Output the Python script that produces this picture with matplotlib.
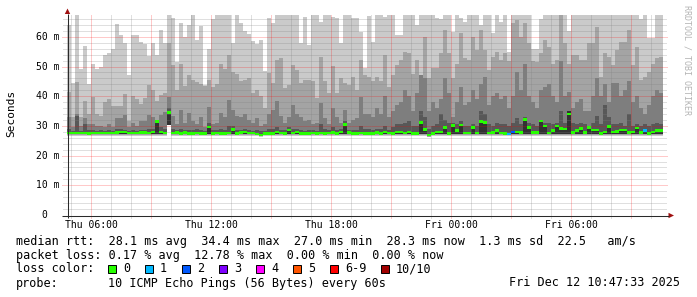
import numpy as np
import matplotlib
matplotlib.use("Agg")
import matplotlib.pyplot as plt
import matplotlib.transforms as mtransforms
from matplotlib.patches import Polygon, Rectangle

plt.rcParams['font.family'] = ['DejaVu Sans Mono', 'DejaVu Sans']

# ---------------- data ----------------
bar_start_hour = 4.8      # Thu 04:48 (hours since Thu 00:00)
bar_hours = 0.2           # 12-minute consolidated steps

ping10 = [64.0, 44.5, 67.4, 49.0, 57.0, 44.0, 51.0, 49.0, 50.0, 54.0,
          54.7, 55.8, 64.3, 60.5, 58.0, 47.0, 60.6, 60.6, 58.2, 57.5,
          53.5, 58.0, 54.0, 62.4, 58.0, 67.4, 66.2, 51.4, 64.5, 60.0,
          64.0, 67.4, 59.0, 63.5, 43.8, 55.8, 65.9, 67.4, 67.4, 67.4,
          67.4, 57.8, 67.4, 64.5, 62.0, 61.0, 58.5, 57.7, 59.0, 48.5,
          66.2, 64.8, 67.4, 67.4, 67.4, 67.4, 67.4, 67.4, 57.8, 66.5,
          57.2, 67.4, 67.4, 65.0, 67.4, 67.4, 66.8, 66.2, 57.8, 67.4,
          67.4, 66.2, 66.2, 61.7, 49.4, 67.0, 58.4, 67.4, 67.4, 66.8,
          67.4, 67.4, 60.6, 60.6, 67.4, 67.4, 67.4, 64.0, 67.4, 67.4,
          67.4, 67.4, 66.2, 66.0, 67.4, 67.4, 61.5, 67.4, 66.2, 65.0,
          67.4, 67.4, 67.4, 64.0, 67.4, 67.4, 61.2, 67.4, 65.0, 67.4,
          55.0, 67.4, 67.4, 67.4, 67.4, 67.4, 56.0, 56.0, 66.0, 67.4,
          67.4, 67.4, 67.4, 67.4, 67.4, 62.0, 67.4, 67.4, 67.4, 67.4,
          67.4, 67.4, 67.4, 67.4, 67.4, 67.4, 67.4, 67.4, 67.4, 67.4,
          67.4, 67.4, 67.4, 66.0, 67.4, 59.5, 59.5, 67.4, 67.4]

ping9 = [41.5, 33.0, 44.9, 33.0, 38.5, 34.0, 39.7, 34.0, 33.5, 38.0,
         39.0, 36.8, 36.8, 36.8, 40.8, 31.5, 40.0, 39.0, 37.5, 39.5,
         43.7, 42.0, 38.5, 40.4, 41.0, 57.8, 50.5, 42.0, 51.0, 43.3,
         47.0, 45.5, 44.8, 44.0, 43.5, 45.5, 43.0, 44.0, 51.0, 49.0,
         54.0, 48.0, 47.5, 45.0, 45.5, 46.0, 41.0, 42.0, 40.0, 36.0,
         47.7, 44.3, 52.2, 52.7, 42.6, 43.8, 50.5, 48.8, 44.3, 45.5,
         45.5, 45.0, 39.5, 53.3, 45.0, 41.0, 50.2, 41.0, 46.0, 44.5,
         43.8, 46.6, 42.0, 52.2, 47.0, 46.6, 45.0, 46.6, 45.0, 53.9,
         43.2, 47.0, 50.5, 52.2, 55.0, 54.4, 47.5, 52.2, 47.0, 60.0,
         46.0, 49.4, 49.4, 54.4, 62.3, 54.4, 46.0, 51.0, 61.2, 52.7,
         52.2, 60.0, 55.5, 62.3, 55.5, 48.8, 53.3, 55.0, 52.2, 54.4,
         52.0, 64.5, 65.6, 60.0, 64.5, 57.8, 52.0, 51.6, 54.4, 58.9,
         56.7, 51.0, 52.2, 67.4, 57.8, 51.0, 53.9, 53.9, 52.2, 52.2,
         57.8, 57.8, 63.4, 46.5, 54.4, 53.3, 50.5, 55.5, 58.1, 58.1,
         62.3, 50.5, 56.7, 45.5, 46.6, 48.3, 51.0, 52.7, 53.3]

ping8 = [33.0, 29.5, 34.0, 30.0, 32.6, 30.5, 30.5, 30.0, 29.8, 29.6,
         30.5, 29.6, 32.6, 32.6, 33.8, 29.5, 31.0, 30.0, 31.5, 31.5,
         33.7, 33.0, 32.0, 33.7, 34.8, 39.7, 33.5, 30.5, 35.5, 31.0,
         34.5, 31.5, 30.5, 33.0, 29.5, 36.5, 30.5, 31.0, 34.5, 33.0,
         38.7, 35.3, 33.5, 33.0, 34.0, 32.0, 31.0, 32.5, 30.0, 30.5,
         34.0, 35.5, 38.5, 33.5, 31.0, 33.0, 37.0, 34.0, 33.0, 31.5,
         32.0, 30.5, 31.0, 37.6, 32.5, 30.5, 36.0, 33.0, 31.0, 35.5,
         31.0, 32.0, 32.5, 39.8, 34.0, 34.0, 33.0, 36.0, 34.0, 40.0,
         33.0, 35.0, 37.0, 38.0, 42.0, 40.0, 35.0, 41.0, 47.0, 46.0,
         35.0, 38.0, 36.0, 39.0, 46.0, 41.0, 33.0, 38.0, 43.2, 37.0,
         38.0, 42.0, 39.0, 44.0, 46.6, 37.0, 40.0, 41.0, 39.0, 40.0,
         36.0, 40.0, 48.0, 42.0, 51.0, 40.0, 38.0, 36.0, 42.0, 43.0,
         44.0, 40.0, 38.0, 52.0, 40.0, 41.5, 36.0, 38.0, 39.0, 35.0,
         35.0, 40.0, 46.0, 40.0, 44.0, 38.0, 44.3, 44.3, 40.0, 42.0,
         45.0, 38.0, 40.0, 36.0, 34.0, 37.0, 40.0, 42.0, 41.0]

ping7 = [29.0, 28.3, 33.5, 28.3, 30.8, 28.5, 28.5, 28.3, 28.5, 28.3,
         28.5, 28.3, 28.8, 29.0, 28.6, 28.3, 28.5, 28.4, 28.6, 28.5,
         28.8, 29.0, 32.0, 29.5, 29.0, 36.0, 29.0, 28.5, 28.8, 28.5,
         28.5, 28.5, 28.8, 28.5, 28.3, 31.0, 28.5, 28.5, 28.8, 28.5,
         30.0, 30.0, 28.5, 28.5, 29.0, 28.5, 28.3, 28.5, 28.3, 28.3,
         29.0, 29.0, 29.5, 28.5, 28.5, 29.5, 29.0, 29.0, 28.5, 28.3,
         28.5, 28.5, 28.3, 30.5, 28.8, 28.5, 29.5, 28.5, 29.0, 31.5,
         28.5, 28.5, 28.5, 30.0, 29.0, 28.8, 28.5, 29.0, 28.8, 30.0,
         28.5, 29.5, 30.5, 30.5, 31.0, 31.5, 30.0, 30.0, 35.0, 33.0,
         29.0, 30.0, 30.5, 34.0, 32.0, 31.0, 31.0, 30.5, 31.5, 30.0,
         30.0, 30.5, 30.0, 35.0, 34.0, 30.5, 30.0, 31.0, 30.5, 30.5,
         30.0, 31.0, 32.5, 30.5, 33.0, 31.0, 30.5, 30.0, 32.0, 31.0,
         31.0, 30.5, 31.0, 35.0, 31.0, 35.0, 31.0, 30.5, 31.0, 30.5,
         30.0, 31.0, 33.5, 30.5, 37.0, 33.0, 30.5, 30.5, 31.0, 30.0,
         34.0, 30.0, 30.5, 30.0, 30.5, 30.0, 30.5, 31.0, 30.5]

ping6 = [27.9, 27.9, 27.9, 27.9, 27.9, 27.9, 27.9, 27.9, 27.9, 27.9,
         27.9, 27.9, 27.9, 28.1, 28.1, 27.9, 27.9, 27.9, 27.9, 27.9,
         27.9, 28.1, 31.8, 28.2, 27.9, 34.8, 27.9, 27.9, 27.9, 27.9,
         27.9, 27.9, 27.9, 27.9, 27.9, 30.0, 27.9, 27.9, 27.9, 27.9,
         27.9, 29.3, 27.9, 28.0, 28.2, 27.9, 27.9, 27.7, 27.3, 27.9,
         27.9, 27.9, 28.1, 27.9, 27.9, 29.0, 27.9, 28.1, 27.9, 27.9,
         27.9, 27.9, 27.9, 27.9, 27.9, 27.9, 28.0, 27.9, 28.1, 30.9,
         27.9, 27.9, 27.9, 27.9, 27.9, 27.9, 27.9, 27.9, 27.9, 28.1,
         27.9, 27.9, 28.1, 28.1, 27.9, 28.1, 27.9, 27.9, 31.6, 29.1,
         27.3, 27.9, 28.1, 28.1, 29.9, 27.9, 30.6, 28.8, 30.7, 27.9,
         27.9, 29.9, 27.9, 31.9, 31.5, 27.9, 28.0, 28.8, 27.9, 27.9,
         27.7, 28.2, 28.1, 27.9, 32.6, 29.9, 27.9, 27.9, 32.1, 30.4,
         27.9, 28.8, 30.4, 29.5, 29.4, 35.0, 27.9, 28.8, 29.5, 27.9,
         29.9, 29.0, 29.0, 27.9, 28.1, 30.2, 28.1, 28.6, 29.0, 29.0,
         27.9, 28.1, 29.7, 27.9, 28.8, 27.9, 28.1, 28.8, 28.8]

ping5 = [27.3, 27.3, 27.3, 27.3, 27.3, 27.3, 27.3, 27.3, 27.3, 27.3,
         27.3, 27.3, 27.3, 27.3, 27.3, 27.3, 27.3, 27.3, 27.3, 27.3,
         27.3, 27.3, 27.3, 27.3, 27.3, 30.3, 27.3, 27.3, 27.3, 27.3,
         27.3, 27.3, 27.3, 27.3, 27.3, 27.3, 27.3, 27.3, 27.3, 27.3,
         27.3, 27.3, 27.3, 27.3, 27.3, 27.3, 27.3, 27.1, 26.8, 27.3,
         27.3, 27.3, 27.3, 27.3, 27.3, 27.3, 27.3, 27.3, 27.3, 27.3,
         27.3, 27.3, 27.3, 27.3, 27.3, 27.3, 27.3, 27.3, 27.3, 27.3,
         27.3, 27.3, 27.3, 27.3, 27.3, 27.3, 27.3, 27.3, 27.3, 27.3,
         27.3, 27.3, 27.3, 27.3, 27.3, 27.3, 27.3, 27.3, 27.3, 27.3,
         26.8, 27.3, 27.3, 27.3, 27.3, 27.3, 27.3, 27.3, 27.3, 27.3,
         27.3, 27.3, 27.3, 27.3, 27.3, 27.3, 27.3, 27.3, 27.3, 27.3,
         27.3, 27.3, 27.3, 27.3, 27.3, 27.3, 27.3, 27.3, 27.3, 27.3,
         27.3, 27.3, 27.3, 27.3, 27.3, 27.3, 27.3, 27.3, 27.3, 27.3,
         27.3, 27.3, 27.3, 27.3, 27.3, 27.3, 27.3, 27.3, 27.3, 27.3,
         27.3, 27.3, 27.3, 27.3, 27.3, 27.3, 27.3, 27.3, 27.3]

ping2 = [26.9, 26.9, 26.9, 26.9, 26.9, 26.9, 26.9, 26.9, 26.9, 26.9,
         26.9, 26.9, 26.9, 26.9, 26.9, 26.9, 26.9, 26.9, 26.9, 26.9,
         26.9, 26.9, 26.9, 26.9, 26.9, 30.3, 26.9, 26.9, 26.9, 26.9,
         26.9, 26.9, 26.9, 26.9, 26.9, 26.9, 26.9, 26.9, 26.9, 26.9,
         26.9, 26.9, 26.9, 26.9, 26.9, 26.9, 26.9, 26.8, 26.5, 26.9,
         26.9, 26.9, 26.9, 26.9, 26.9, 26.9, 26.9, 26.9, 26.9, 26.9,
         26.9, 26.9, 26.9, 26.9, 26.9, 26.9, 26.9, 26.9, 26.9, 26.9,
         26.9, 26.9, 26.9, 26.9, 26.9, 26.9, 26.9, 26.9, 26.9, 26.9,
         26.9, 26.9, 26.9, 26.9, 26.9, 26.9, 26.9, 26.9, 26.9, 26.9,
         26.4, 26.9, 26.9, 26.9, 26.9, 26.9, 26.9, 26.9, 26.9, 26.9,
         26.9, 26.9, 26.9, 26.9, 26.9, 26.9, 26.9, 26.9, 26.9, 26.9,
         26.9, 26.9, 26.9, 26.9, 26.9, 26.9, 26.9, 26.9, 26.9, 26.9,
         26.9, 26.9, 26.9, 26.9, 26.9, 26.9, 26.9, 26.9, 26.9, 26.9,
         26.9, 26.9, 26.9, 26.9, 26.9, 26.9, 26.9, 26.9, 26.9, 26.9,
         26.9, 26.9, 26.9, 26.9, 26.9, 26.9, 26.9, 26.9, 26.9]

ping1 = [26.7, 26.7, 26.7, 26.7, 26.7, 26.7, 26.7, 26.7, 26.7, 26.7,
         26.7, 26.7, 26.7, 26.7, 26.7, 26.7, 26.7, 26.7, 26.7, 26.7,
         26.7, 26.7, 26.7, 26.7, 26.7, 30.3, 26.7, 26.7, 26.7, 26.7,
         26.7, 26.7, 26.7, 26.7, 26.7, 26.7, 26.7, 26.7, 26.7, 26.7,
         26.7, 26.7, 26.7, 26.7, 26.7, 26.7, 26.7, 26.6, 26.3, 26.7,
         26.7, 26.7, 26.7, 26.7, 26.7, 26.7, 26.7, 26.7, 26.7, 26.7,
         26.7, 26.7, 26.7, 26.7, 26.7, 26.7, 26.7, 26.7, 26.7, 26.7,
         26.7, 26.7, 26.7, 26.7, 26.7, 26.7, 26.7, 26.7, 26.7, 26.7,
         26.7, 26.7, 26.7, 26.7, 26.7, 26.7, 26.7, 26.7, 26.7, 26.7,
         26.2, 26.7, 26.7, 26.7, 26.7, 26.7, 26.7, 26.7, 26.7, 26.7,
         26.7, 26.7, 26.7, 26.7, 26.7, 26.7, 26.7, 26.7, 26.7, 26.7,
         26.7, 26.7, 26.7, 26.7, 26.7, 26.7, 26.7, 26.7, 26.7, 26.7,
         26.7, 26.7, 26.7, 26.7, 26.7, 26.7, 26.7, 26.7, 26.7, 26.7,
         26.7, 26.7, 26.7, 26.7, 26.7, 26.7, 26.7, 26.7, 26.7, 26.7,
         26.7, 26.7, 26.7, 26.7, 26.7, 26.7, 26.7, 26.7, 26.7]

median = [27.6, 27.6, 27.6, 27.6, 27.6, 27.4, 27.6, 27.6, 27.6, 27.6,
          27.6, 27.6, 27.7, 27.9, 27.9, 27.6, 27.6, 27.6, 27.7, 27.7,
          27.6, 27.9, 31.4, 28.0, 27.6, 34.4, 27.6, 27.7, 27.5, 27.7,
          27.5, 27.5, 27.6, 27.5, 27.5, 29.6, 27.5, 27.6, 27.5, 27.5,
          27.6, 28.9, 27.5, 27.8, 28.0, 27.6, 27.6, 27.3, 26.9, 27.5,
          27.5, 27.5, 27.9, 27.6, 27.5, 28.6, 27.6, 27.9, 27.5, 27.5,
          27.5, 27.6, 27.5, 27.6, 27.5, 27.6, 27.8, 27.5, 27.9, 30.4,
          27.7, 27.5, 27.5, 27.6, 27.4, 27.5, 27.5, 27.7, 27.5, 27.9,
          27.6, 27.5, 27.9, 27.9, 27.6, 27.9, 27.5, 27.5, 31.1, 28.7,
          26.9, 27.5, 27.9, 27.9, 29.5, 27.5, 30.2, 28.4, 30.3, 27.6,
          27.6, 29.5, 27.6, 31.4, 31.1, 27.6, 27.8, 28.4, 27.6, 27.4,
          27.3, 28.0, 27.9, 27.7, 32.2, 29.5, 27.7, 27.7, 31.7, 30.0,
          27.6, 28.4, 30.0, 29.1, 29.0, 34.0, 27.7, 28.4, 29.1, 27.7,
          29.5, 28.6, 28.6, 27.4, 27.9, 29.7, 27.9, 28.2, 28.6, 28.6,
          27.7, 27.9, 29.3, 27.7, 28.4, 27.5, 27.9, 28.4, 28.4]

loss_class = [0] * 110 + [1, 2] + [0] * 32 + [1] + [0] * 4

loss_labels = ['0', '1', '2', '3', '4', '5', '6-9', '10/10']
loss_colors = ['#26ff00', '#00b8ff', '#0059ff', '#7e00ff', '#ff00ff',
               '#ff5500', '#ff0000', '#a10000']

hour_ticks = [6, 12, 18, 24, 30]
hour_labels = ['Thu 06:00', 'Thu 12:00', 'Thu 18:00', 'Fri 00:00', 'Fri 06:00']
ms_ticks = [0, 10, 20, 30, 40, 50, 60]
ms_labels = ['0', '10 m', '20 m', '30 m', '40 m', '50 m', '60 m']

rtt_avg, rtt_max, rtt_min, rtt_now, rtt_sd, rtt_ams = 28.1, 34.4, 27.0, 28.3, 1.3, 22.5
loss_avg, loss_max, loss_min, loss_now = 0.17, 12.78, 0.00, 0.00
probe_text = '10 ICMP Echo Pings (56 Bytes) every 60s'
stamp_text = 'Fri Dec 12 10:47:33 2025'

# ---------------- figure ----------------
W, H = 697, 297
fig = plt.figure(figsize=(W / 100, H / 100), dpi=100)
fig.patch.set_facecolor('white')

x_lo, x_hi = 4.8, 34.8
y_top = 67.8
ax_left, ax_bottom_px, ax_w_px = 67, 215, 600
ax_h_px = y_top * 2.97
ax = fig.add_axes([ax_left / W, (H - ax_bottom_px) / H, ax_w_px / W, ax_h_px / H])
ax.set_xlim(x_lo, x_hi)
ax.set_ylim(0, y_top)
for s in ax.spines.values():
    s.set_visible(False)
ax.set_xticks([])
ax.set_yticks([])
ax.set_facecolor('white')

n = len(ping10)
edges = bar_start_hour + bar_hours * np.arange(n + 1)


def ext(a):
    a = np.asarray(a, dtype=float)
    return np.append(a, a[-1])


p1, p2, p5 = ext(ping1), ext(ping2), ext(ping5)
p6, p7, p8, p9, p10 = ext(ping6), ext(ping7), ext(ping8), ext(ping9), ext(ping10)
bands = [
    (p1, p10, '#cacaca'),
    (p2, p9, '#a4a4a4'),
    (p5, p8, '#7e7e7e'),
    (p5, p7, '#585858'),
    (p5, p6, '#323232'),
]
for k, (lo, hi, col) in enumerate(bands):
    ax.fill_between(edges, lo, np.maximum(hi, lo), step='post', color=col,
                    linewidth=0, zorder=1 + k * 0.1, antialiased=False)

# grid (dotted, drawn on top of smoke)
minor_col = (0.5, 0.5, 0.5, 0.5)
major_col = (1.0, 0.0, 0.0, 0.42)
dot = (0, (1, 1))
gkw = dict(lw=0.72, ls=dot, clip_on=False, zorder=3, dash_capstyle='butt')
for yv in range(2, 68, 2):
    if yv % 10 == 0:
        continue
    ax.plot([x_lo - 0.2, x_hi], [yv, yv], color=minor_col, **gkw)
for yv in range(10, 61, 10):
    ax.plot([x_lo - 0.25, x_hi], [yv, yv], color=major_col, **gkw)
for xv in range(5, 35):
    if xv % 3 == 0:
        continue
    ax.plot([xv, xv], [-1.0, y_top], color=minor_col, **gkw)
for xv in range(6, 34, 3):
    ax.plot([xv, xv], [-1.0, y_top], color=major_col, **gkw)

# median with loss colour
ax.bar(edges[:-1], 0.9, bottom=np.asarray(median) - 0.45, width=bar_hours,
       align='edge', color=[loss_colors[c] for c in loss_class], linewidth=0,
       zorder=4)

# tick labels
ident = mtransforms.IdentityTransform()
ytr = mtransforms.blended_transform_factory(ident, ax.transData)
for v, lab in zip(ms_ticks, ms_labels):
    xr = 47.5 if lab == '0' else 59.5
    ax.text(xr, v, lab, transform=ytr, ha='right', va='center', fontsize=7,
            color='black', clip_on=False)
xtr = mtransforms.blended_transform_factory(ax.transData, ident)
for v, lab in zip(hour_ticks, hour_labels):
    ax.text(v, H - 224.5, lab, transform=xtr, ha='center', va='center',
            fontsize=7, color='black', clip_on=False)

# overlay in pixel coordinates for axis lines, arrows, legend
ov = fig.add_axes([0, 0, 1, 1], zorder=10)
ov.set_xlim(0, W)
ov.set_ylim(H, 0)
ov.axis('off')
ov.patch.set_alpha(0)

axis_col = '#2a2a2a'
arrow_col = '#a01010'
ov.plot([67.5, 67.5], [218, 13.5], color=axis_col, lw=0.75, solid_capstyle='butt')
ov.plot([62, 668.5], [215.5, 215.5], color=axis_col, lw=0.75, solid_capstyle='butt')
ov.add_patch(Polygon([[67.5, 8.5], [64.8, 14.0], [70.2, 14.0]], closed=True,
                     facecolor=arrow_col, edgecolor='none'))
ov.add_patch(Polygon([[674.0, 215.5], [668.5, 212.8], [668.5, 218.2]], closed=True,
                     facecolor=arrow_col, edgecolor='none'))

ov.text(11, 113, 'Seconds', rotation=90, ha='center', va='center', fontsize=8,
        color='black')
ov.text(687.5, 60, 'RRDTOOL / TOBI OETIKER', rotation=270, ha='center',
        va='center', fontsize=6, color='#b4b4b4')

FS = 8.5
rtt_line = ('median rtt:  %.1f ms avg  %.1f ms max  %.1f ms min  %.1f ms now  '
            '%.1f ms sd  %.1f   am/s' % (rtt_avg, rtt_max, rtt_min, rtt_now,
                                         rtt_sd, rtt_ams))
loss_line = ('packet loss: %.2f %% avg  %.2f %% max  %.2f %% min  %.2f %% now'
             % (loss_avg, loss_max, loss_min, loss_now))
ov.text(16, 241, rtt_line, ha='left', va='center', fontsize=FS, color='black')
ov.text(16, 255, loss_line, ha='left', va='center', fontsize=FS, color='black')
ov.text(16, 269, 'loss color:', ha='left', va='center', fontsize=FS, color='black')
box_x = [108, 145, 182, 219, 256, 293, 330, 381]
for bx, lab, col in zip(box_x, loss_labels, loss_colors):
    ov.add_patch(Rectangle((bx, 264.5), 8, 8, facecolor=col, edgecolor='black',
                           lw=0.7))
    ov.text(bx + 15, 269, lab, ha='left', va='center', fontsize=FS, color='black')
ov.text(16, 283, 'probe:', ha='left', va='center', fontsize=FS, color='black')
ov.text(108, 283, probe_text, ha='left', va='center', fontsize=FS, color='black')
ov.text(680, 283, stamp_text, ha='right', va='center', fontsize=FS, color='black')

fig.savefig('out.png', dpi=100, facecolor='white')
